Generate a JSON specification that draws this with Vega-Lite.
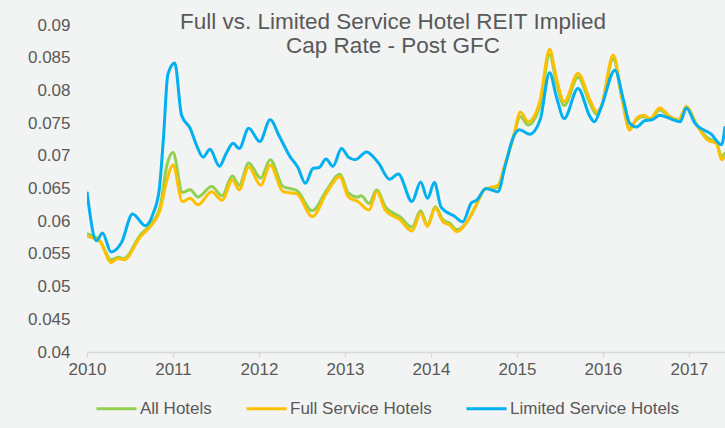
{
  "$schema": "https://vega.github.io/schema/vega-lite/v6.json",
  "width": 638,
  "height": 327,
  "autosize": {"type": "none"},
  "padding": {"left": 87, "top": 25, "right": 0, "bottom": 76},
  "background": "#f2f3f3",
  "title": {
    "text": ["Full vs. Limited Service Hotel REIT Implied", "Cap Rate - Post GFC"],
    "anchor": "middle",
    "frame": "group",
    "dx": -13,
    "offset": -41,
    "font": "Liberation Sans",
    "fontSize": 22.5,
    "fontWeight": "normal",
    "color": "#595959",
    "lineHeight": 24
  },
  "config": {
    "view": {"stroke": null},
    "font": "Liberation Sans"
  },
  "data": {
    "values": [
      {"t": 2010.0, "s": "All Hotels", "v": 0.0581},
      {"t": 2010.15, "s": "All Hotels", "v": 0.057},
      {"t": 2010.28, "s": "All Hotels", "v": 0.0541},
      {"t": 2010.36, "s": "All Hotels", "v": 0.0545},
      {"t": 2010.43, "s": "All Hotels", "v": 0.0543},
      {"t": 2010.62, "s": "All Hotels", "v": 0.0579},
      {"t": 2010.75, "s": "All Hotels", "v": 0.0597},
      {"t": 2010.85, "s": "All Hotels", "v": 0.0622},
      {"t": 2010.93, "s": "All Hotels", "v": 0.0686},
      {"t": 2011.0, "s": "All Hotels", "v": 0.0705},
      {"t": 2011.11, "s": "All Hotels", "v": 0.0644},
      {"t": 2011.2, "s": "All Hotels", "v": 0.0648},
      {"t": 2011.29, "s": "All Hotels", "v": 0.0637},
      {"t": 2011.45, "s": "All Hotels", "v": 0.0653},
      {"t": 2011.57, "s": "All Hotels", "v": 0.0639},
      {"t": 2011.69, "s": "All Hotels", "v": 0.0669},
      {"t": 2011.77, "s": "All Hotels", "v": 0.0655},
      {"t": 2011.88, "s": "All Hotels", "v": 0.0689},
      {"t": 2012.02, "s": "All Hotels", "v": 0.0666},
      {"t": 2012.13, "s": "All Hotels", "v": 0.0694},
      {"t": 2012.28, "s": "All Hotels", "v": 0.0653},
      {"t": 2012.44, "s": "All Hotels", "v": 0.0647},
      {"t": 2012.62, "s": "All Hotels", "v": 0.0616},
      {"t": 2012.79, "s": "All Hotels", "v": 0.0648},
      {"t": 2012.94, "s": "All Hotels", "v": 0.0672},
      {"t": 2013.04, "s": "All Hotels", "v": 0.0643},
      {"t": 2013.15, "s": "All Hotels", "v": 0.0637},
      {"t": 2013.19, "s": "All Hotels", "v": 0.0639},
      {"t": 2013.28, "s": "All Hotels", "v": 0.0627},
      {"t": 2013.37, "s": "All Hotels", "v": 0.0648},
      {"t": 2013.47, "s": "All Hotels", "v": 0.0622},
      {"t": 2013.64, "s": "All Hotels", "v": 0.0607},
      {"t": 2013.78, "s": "All Hotels", "v": 0.0591},
      {"t": 2013.88, "s": "All Hotels", "v": 0.0616},
      {"t": 2013.96, "s": "All Hotels", "v": 0.0594},
      {"t": 2014.05, "s": "All Hotels", "v": 0.0622},
      {"t": 2014.14, "s": "All Hotels", "v": 0.0602},
      {"t": 2014.22, "s": "All Hotels", "v": 0.0597},
      {"t": 2014.3, "s": "All Hotels", "v": 0.0587},
      {"t": 2014.42, "s": "All Hotels", "v": 0.0599},
      {"t": 2014.51, "s": "All Hotels", "v": 0.062},
      {"t": 2014.63, "s": "All Hotels", "v": 0.0649},
      {"t": 2014.78, "s": "All Hotels", "v": 0.0652},
      {"t": 2014.86, "s": "All Hotels", "v": 0.0685},
      {"t": 2014.96, "s": "All Hotels", "v": 0.0729},
      {"t": 2015.04, "s": "All Hotels", "v": 0.076},
      {"t": 2015.13, "s": "All Hotels", "v": 0.0747},
      {"t": 2015.27, "s": "All Hotels", "v": 0.0778},
      {"t": 2015.38, "s": "All Hotels", "v": 0.0855},
      {"t": 2015.46, "s": "All Hotels", "v": 0.0811},
      {"t": 2015.55, "s": "All Hotels", "v": 0.0777},
      {"t": 2015.71, "s": "All Hotels", "v": 0.082},
      {"t": 2015.85, "s": "All Hotels", "v": 0.078},
      {"t": 2015.93, "s": "All Hotels", "v": 0.0763},
      {"t": 2015.98, "s": "All Hotels", "v": 0.0775},
      {"t": 2016.12, "s": "All Hotels", "v": 0.0848},
      {"t": 2016.22, "s": "All Hotels", "v": 0.0789},
      {"t": 2016.31, "s": "All Hotels", "v": 0.0742},
      {"t": 2016.39, "s": "All Hotels", "v": 0.0755},
      {"t": 2016.47, "s": "All Hotels", "v": 0.076},
      {"t": 2016.55, "s": "All Hotels", "v": 0.0756},
      {"t": 2016.66, "s": "All Hotels", "v": 0.077},
      {"t": 2016.78, "s": "All Hotels", "v": 0.0759},
      {"t": 2016.88, "s": "All Hotels", "v": 0.0754},
      {"t": 2016.97, "s": "All Hotels", "v": 0.0775},
      {"t": 2017.09, "s": "All Hotels", "v": 0.0748},
      {"t": 2017.22, "s": "All Hotels", "v": 0.0727},
      {"t": 2017.32, "s": "All Hotels", "v": 0.0721},
      {"t": 2017.38, "s": "All Hotels", "v": 0.0698},
      {"t": 2017.42, "s": "All Hotels", "v": 0.0705},

      {"t": 2010.0, "s": "Full Service Hotels", "v": 0.0577},
      {"t": 2010.15, "s": "Full Service Hotels", "v": 0.0569},
      {"t": 2010.28, "s": "Full Service Hotels", "v": 0.0537},
      {"t": 2010.36, "s": "Full Service Hotels", "v": 0.0543},
      {"t": 2010.43, "s": "Full Service Hotels", "v": 0.0541},
      {"t": 2010.62, "s": "Full Service Hotels", "v": 0.0576},
      {"t": 2010.75, "s": "Full Service Hotels", "v": 0.0594},
      {"t": 2010.85, "s": "Full Service Hotels", "v": 0.0617},
      {"t": 2010.93, "s": "Full Service Hotels", "v": 0.0663},
      {"t": 2011.0, "s": "Full Service Hotels", "v": 0.0686},
      {"t": 2011.11, "s": "Full Service Hotels", "v": 0.063},
      {"t": 2011.2, "s": "Full Service Hotels", "v": 0.0635},
      {"t": 2011.29, "s": "Full Service Hotels", "v": 0.0625},
      {"t": 2011.45, "s": "Full Service Hotels", "v": 0.0645},
      {"t": 2011.57, "s": "Full Service Hotels", "v": 0.0632},
      {"t": 2011.69, "s": "Full Service Hotels", "v": 0.0663},
      {"t": 2011.77, "s": "Full Service Hotels", "v": 0.0648},
      {"t": 2011.88, "s": "Full Service Hotels", "v": 0.0683},
      {"t": 2012.02, "s": "Full Service Hotels", "v": 0.0655},
      {"t": 2012.13, "s": "Full Service Hotels", "v": 0.0686},
      {"t": 2012.28, "s": "Full Service Hotels", "v": 0.0645},
      {"t": 2012.44, "s": "Full Service Hotels", "v": 0.0642},
      {"t": 2012.62, "s": "Full Service Hotels", "v": 0.0607},
      {"t": 2012.79, "s": "Full Service Hotels", "v": 0.0644},
      {"t": 2012.94, "s": "Full Service Hotels", "v": 0.0668},
      {"t": 2013.04, "s": "Full Service Hotels", "v": 0.0637},
      {"t": 2013.15, "s": "Full Service Hotels", "v": 0.063},
      {"t": 2013.28, "s": "Full Service Hotels", "v": 0.0617},
      {"t": 2013.37, "s": "Full Service Hotels", "v": 0.0645},
      {"t": 2013.47, "s": "Full Service Hotels", "v": 0.0617},
      {"t": 2013.64, "s": "Full Service Hotels", "v": 0.0602},
      {"t": 2013.78, "s": "Full Service Hotels", "v": 0.0585},
      {"t": 2013.88, "s": "Full Service Hotels", "v": 0.0612},
      {"t": 2013.96, "s": "Full Service Hotels", "v": 0.0592},
      {"t": 2014.05, "s": "Full Service Hotels", "v": 0.062},
      {"t": 2014.14, "s": "Full Service Hotels", "v": 0.0599},
      {"t": 2014.22, "s": "Full Service Hotels", "v": 0.0594},
      {"t": 2014.3, "s": "Full Service Hotels", "v": 0.0584},
      {"t": 2014.42, "s": "Full Service Hotels", "v": 0.0599},
      {"t": 2014.51, "s": "Full Service Hotels", "v": 0.062},
      {"t": 2014.63, "s": "Full Service Hotels", "v": 0.0649},
      {"t": 2014.78, "s": "Full Service Hotels", "v": 0.0655},
      {"t": 2014.86, "s": "Full Service Hotels", "v": 0.0686},
      {"t": 2014.96, "s": "Full Service Hotels", "v": 0.0729},
      {"t": 2015.04, "s": "Full Service Hotels", "v": 0.0767},
      {"t": 2015.13, "s": "Full Service Hotels", "v": 0.0752},
      {"t": 2015.27, "s": "Full Service Hotels", "v": 0.0785},
      {"t": 2015.38, "s": "Full Service Hotels", "v": 0.0863},
      {"t": 2015.46, "s": "Full Service Hotels", "v": 0.0818},
      {"t": 2015.55, "s": "Full Service Hotels", "v": 0.0783},
      {"t": 2015.71, "s": "Full Service Hotels", "v": 0.0826},
      {"t": 2015.85, "s": "Full Service Hotels", "v": 0.0785},
      {"t": 2015.93, "s": "Full Service Hotels", "v": 0.0767},
      {"t": 2015.98, "s": "Full Service Hotels", "v": 0.0775},
      {"t": 2016.12, "s": "Full Service Hotels", "v": 0.0854},
      {"t": 2016.22, "s": "Full Service Hotels", "v": 0.079},
      {"t": 2016.31, "s": "Full Service Hotels", "v": 0.0739},
      {"t": 2016.39, "s": "Full Service Hotels", "v": 0.0757},
      {"t": 2016.47, "s": "Full Service Hotels", "v": 0.0762},
      {"t": 2016.55, "s": "Full Service Hotels", "v": 0.0757},
      {"t": 2016.66, "s": "Full Service Hotels", "v": 0.0773},
      {"t": 2016.78, "s": "Full Service Hotels", "v": 0.076},
      {"t": 2016.88, "s": "Full Service Hotels", "v": 0.0755},
      {"t": 2016.97, "s": "Full Service Hotels", "v": 0.0775},
      {"t": 2017.09, "s": "Full Service Hotels", "v": 0.0747},
      {"t": 2017.22, "s": "Full Service Hotels", "v": 0.0724},
      {"t": 2017.32, "s": "Full Service Hotels", "v": 0.0719},
      {"t": 2017.38, "s": "Full Service Hotels", "v": 0.0694},
      {"t": 2017.42, "s": "Full Service Hotels", "v": 0.0699},

      {"t": 2010.0, "s": "Limited Service Hotels", "v": 0.0645},
      {"t": 2010.11, "s": "Limited Service Hotels", "v": 0.057},
      {"t": 2010.18, "s": "Limited Service Hotels", "v": 0.0582},
      {"t": 2010.28, "s": "Limited Service Hotels", "v": 0.0553},
      {"t": 2010.4, "s": "Limited Service Hotels", "v": 0.0567},
      {"t": 2010.53, "s": "Limited Service Hotels", "v": 0.0611},
      {"t": 2010.68, "s": "Limited Service Hotels", "v": 0.0593},
      {"t": 2010.77, "s": "Limited Service Hotels", "v": 0.0612},
      {"t": 2010.84, "s": "Limited Service Hotels", "v": 0.0648},
      {"t": 2010.89, "s": "Limited Service Hotels", "v": 0.0729},
      {"t": 2010.94, "s": "Limited Service Hotels", "v": 0.0824},
      {"t": 2011.02, "s": "Limited Service Hotels", "v": 0.0842},
      {"t": 2011.1, "s": "Limited Service Hotels", "v": 0.0762},
      {"t": 2011.2, "s": "Limited Service Hotels", "v": 0.0742},
      {"t": 2011.28, "s": "Limited Service Hotels", "v": 0.0714},
      {"t": 2011.35, "s": "Limited Service Hotels", "v": 0.0698},
      {"t": 2011.43, "s": "Limited Service Hotels", "v": 0.071},
      {"t": 2011.54, "s": "Limited Service Hotels", "v": 0.0684},
      {"t": 2011.62, "s": "Limited Service Hotels", "v": 0.0704},
      {"t": 2011.7, "s": "Limited Service Hotels", "v": 0.0719},
      {"t": 2011.77, "s": "Limited Service Hotels", "v": 0.0711},
      {"t": 2011.88, "s": "Limited Service Hotels", "v": 0.0742},
      {"t": 2012.01, "s": "Limited Service Hotels", "v": 0.0722},
      {"t": 2012.13, "s": "Limited Service Hotels", "v": 0.0755},
      {"t": 2012.24, "s": "Limited Service Hotels", "v": 0.0729},
      {"t": 2012.36, "s": "Limited Service Hotels", "v": 0.0699},
      {"t": 2012.45, "s": "Limited Service Hotels", "v": 0.0683},
      {"t": 2012.54, "s": "Limited Service Hotels", "v": 0.0658},
      {"t": 2012.63, "s": "Limited Service Hotels", "v": 0.0681},
      {"t": 2012.7, "s": "Limited Service Hotels", "v": 0.0682},
      {"t": 2012.78, "s": "Limited Service Hotels", "v": 0.0695},
      {"t": 2012.86, "s": "Limited Service Hotels", "v": 0.0684},
      {"t": 2012.96, "s": "Limited Service Hotels", "v": 0.0711},
      {"t": 2013.04, "s": "Limited Service Hotels", "v": 0.0698},
      {"t": 2013.12, "s": "Limited Service Hotels", "v": 0.0694},
      {"t": 2013.25, "s": "Limited Service Hotels", "v": 0.0706},
      {"t": 2013.39, "s": "Limited Service Hotels", "v": 0.0689},
      {"t": 2013.52, "s": "Limited Service Hotels", "v": 0.0664},
      {"t": 2013.62, "s": "Limited Service Hotels", "v": 0.0672},
      {"t": 2013.78, "s": "Limited Service Hotels", "v": 0.063},
      {"t": 2013.88, "s": "Limited Service Hotels", "v": 0.066},
      {"t": 2013.96, "s": "Limited Service Hotels", "v": 0.0635},
      {"t": 2014.04, "s": "Limited Service Hotels", "v": 0.0659},
      {"t": 2014.12, "s": "Limited Service Hotels", "v": 0.0621},
      {"t": 2014.28, "s": "Limited Service Hotels", "v": 0.0607},
      {"t": 2014.37, "s": "Limited Service Hotels", "v": 0.0599},
      {"t": 2014.47, "s": "Limited Service Hotels", "v": 0.0628},
      {"t": 2014.53, "s": "Limited Service Hotels", "v": 0.0632},
      {"t": 2014.64, "s": "Limited Service Hotels", "v": 0.065},
      {"t": 2014.78, "s": "Limited Service Hotels", "v": 0.0645},
      {"t": 2014.86, "s": "Limited Service Hotels", "v": 0.0683},
      {"t": 2014.96, "s": "Limited Service Hotels", "v": 0.0729},
      {"t": 2015.03, "s": "Limited Service Hotels", "v": 0.074},
      {"t": 2015.15, "s": "Limited Service Hotels", "v": 0.0733},
      {"t": 2015.27, "s": "Limited Service Hotels", "v": 0.0755},
      {"t": 2015.38, "s": "Limited Service Hotels", "v": 0.0827},
      {"t": 2015.46, "s": "Limited Service Hotels", "v": 0.079},
      {"t": 2015.55, "s": "Limited Service Hotels", "v": 0.0757},
      {"t": 2015.71, "s": "Limited Service Hotels", "v": 0.0803},
      {"t": 2015.85, "s": "Limited Service Hotels", "v": 0.076},
      {"t": 2015.9, "s": "Limited Service Hotels", "v": 0.0752},
      {"t": 2015.98, "s": "Limited Service Hotels", "v": 0.0774},
      {"t": 2016.14, "s": "Limited Service Hotels", "v": 0.0831},
      {"t": 2016.24, "s": "Limited Service Hotels", "v": 0.0785},
      {"t": 2016.31, "s": "Limited Service Hotels", "v": 0.075},
      {"t": 2016.39, "s": "Limited Service Hotels", "v": 0.0744},
      {"t": 2016.49, "s": "Limited Service Hotels", "v": 0.0754},
      {"t": 2016.57, "s": "Limited Service Hotels", "v": 0.0755},
      {"t": 2016.66, "s": "Limited Service Hotels", "v": 0.0762},
      {"t": 2016.78, "s": "Limited Service Hotels", "v": 0.0757},
      {"t": 2016.9, "s": "Limited Service Hotels", "v": 0.0752},
      {"t": 2016.97, "s": "Limited Service Hotels", "v": 0.0773},
      {"t": 2017.07, "s": "Limited Service Hotels", "v": 0.075},
      {"t": 2017.26, "s": "Limited Service Hotels", "v": 0.0733},
      {"t": 2017.38, "s": "Limited Service Hotels", "v": 0.0717},
      {"t": 2017.42, "s": "Limited Service Hotels", "v": 0.0745}
    ]
  },
  "mark": {"type": "line", "interpolate": "monotone", "strokeWidth": 3, "clip": true},
  "encoding": {
    "x": {
      "field": "t",
      "type": "quantitative",
      "scale": {"domain": [2010, 2017.42], "nice": false, "zero": false},
      "axis": {
        "title": null,
        "values": [2010, 2011, 2012, 2013, 2014, 2015, 2016, 2017],
        "format": "d",
        "grid": false,
        "labelFont": "Liberation Sans",
        "labelFontSize": 17,
        "labelColor": "#595959",
        "labelPadding": 4,
        "domainColor": "#d9d9d9",
        "domainWidth": 1.5,
        "tickColor": "#d9d9d9",
        "tickWidth": 1.5,
        "tickSize": 5,
        "labelFlush": false
      }
    },
    "y": {
      "field": "v",
      "type": "quantitative",
      "scale": {"domain": [0.04, 0.09], "nice": false, "zero": false},
      "axis": {
        "title": null,
        "values": [0.04, 0.045, 0.05, 0.055, 0.06, 0.065, 0.07, 0.075, 0.08, 0.085, 0.09],
        "format": ".3~f",
        "grid": false,
        "domain": false,
        "ticks": false,
        "labelFont": "Liberation Sans",
        "labelFontSize": 17,
        "labelColor": "#595959",
        "labelPadding": 17
      }
    },
    "color": {
      "field": "s",
      "type": "nominal",
      "scale": {
        "domain": ["All Hotels", "Full Service Hotels", "Limited Service Hotels"],
        "range": ["#92d050", "#ffc000", "#00b0f0"]
      },
      "legend": {
        "title": null,
        "orient": "none",
        "legendX": 8,
        "legendY": 362,
        "direction": "horizontal",
        "symbolType": "stroke",
        "symbolSize": 1600,
        "symbolStrokeWidth": 3,
        "labelFont": "Liberation Sans",
        "labelFontSize": 17,
        "labelColor": "#595959",
        "labelOffset": 2,
        "labelLimit": 400,
        "columnPadding": 28,
        "padding": 0
      }
    }
  }
}
